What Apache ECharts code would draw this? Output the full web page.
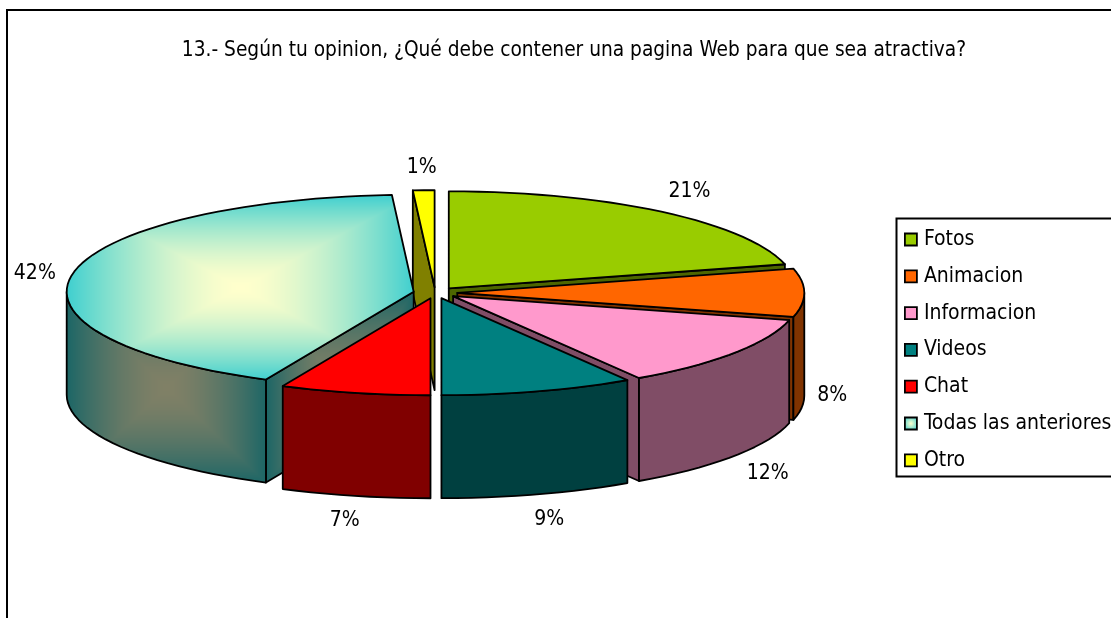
<!DOCTYPE html>
<html>
<head>
<meta charset="utf-8">
<style>html,body{margin:0;padding:0;background:#fff}#c{width:1111px;height:618px}</style>
<script src="https://cdn.jsdelivr.net/npm/echarts@6/dist/echarts.min.js"></script>
</head>
<body>
<div id="c"></div>
<script>
const titleText = '13.- Según tu opinion, ¿Qué debe contener una pagina Web para que sea atractiva?';
const categories = ['Fotos','Animacion','Informacion','Videos','Chat','Todas las anteriores','Otro'];
const values = [21,8,12,9,7,42,1];
const topColors = ['#99CC00','#FF6600','#FF99CC','#008080','#FF0000',null,'#FFFF00'];
const sideColors = ['#4D6600','#803300','#804D66','#004040','#800000',null,'#808000'];

// layout of the pseudo-3D pie (not data)
const FONT = '"DejaVu Sans Condensed","DejaVu Sans",sans-serif';
const pie = {cx:435.3, cy:292.8, rx:347, ry:97, depth:103, ex:22, ey:5.6};
const paintOrder = [6,0,1,5,2,4,3];
const labelNudge = [[28,-20.5],[28,102.5],[34,120.5],[11,128],[-10,127.5],[-38,-0.5],[-2,-23]];

const total = values.reduce((a,b)=>a+b,0);
const TAU = Math.PI*2;

function hex(c){return [1,3,5].map(k=>parseInt(c.substr(k,2),16));}
function rectGradientCanvas(box,centre,edge){
  const cv=document.createElement('canvas');cv.width=1111;cv.height=618;
  const ctx=cv.getContext('2d');
  const x0=Math.max(0,Math.floor(box[0])),y0=Math.max(0,Math.floor(box[1]));
  const x1=Math.min(1111,Math.ceil(box[2])),y1=Math.min(618,Math.ceil(box[3]));
  const w=x1-x0,h=y1-y0,img=ctx.createImageData(w,h);
  const mx=(box[0]+box[2])/2,my=(box[1]+box[3])/2,hx=(box[2]-box[0])/2,hy=(box[3]-box[1])/2;
  const a=hex(centre),b=hex(edge);
  for(let y=0;y<h;y++)for(let x=0;x<w;x++){
    const t=Math.pow(Math.min(1,Math.max(Math.abs(x+x0-mx)/hx,Math.abs(y+y0-my)/hy)),1.6);
    const p=(y*w+x)*4;
    for(let k=0;k<3;k++)img.data[p+k]=a[k]+(b[k]-a[k])*t;
    img.data[p+3]=255;
  }
  ctx.putImageData(img,x0,y0);
  return cv;
}
const patCache={};
function gradFill(key,pts,centre,edge){
  if(!patCache[key]){
    const xs=pts.map(p=>p[0]),ys=pts.map(p=>p[1]);
    patCache[key]={image:rectGradientCanvas([Math.min(...xs),Math.min(...ys),Math.max(...xs),Math.max(...ys)],centre,edge),repeat:'no-repeat'};
  }
  return patCache[key];
}

function renderSlice(params,api){
  const i=api.value(1);
  let before=0;for(let k=0;k<i;k++)before+=values[k];
  const a0=before/total*TAU,a1=(before+api.value(0))/total*TAU,mid=(a0+a1)/2;
  const ox=pie.cx+pie.ex*Math.sin(mid),oy=pie.cy-pie.ey*Math.cos(mid);
  const pt=(a,d)=>[ox+pie.rx*Math.sin(a),oy-pie.ry*Math.cos(a)+(d||0)];
  const arc=(s,e,d)=>{const n=Math.max(1,Math.ceil((e-s)/0.045)),r=[];for(let k=0;k<=n;k++)r.push(pt(s+(e-s)*k/n,d));return r;};
  const grad=!topColors[i];
  const side=(key,pts)=>grad?gradFill(key,pts,'#808066','#1C6666'):sideColors[i];
  const stroke={stroke:'#000',lineWidth:1.8,lineJoin:'round'};
  const poly=(pts,fill)=>({type:'polygon',shape:{points:pts},style:Object.assign({fill},stroke),silent:true});
  const kids=[];
  const wall=(a,key)=>{const q=[[ox,oy],pt(a),pt(a,pie.depth),[ox,oy+pie.depth]];kids.push(poly(q,side(key,q)));};
  if(Math.sin(a0)<-1e-6)wall(a0,'wallStart');
  if(Math.sin(a1)>1e-6)wall(a1,'wallEnd');
  const s=Math.max(a0,Math.PI/2),e=Math.min(a1,Math.PI*1.5);
  if(e>s){
    const q=arc(s,e,0).concat(arc(s,e,pie.depth).reverse());
    kids.push(poly(q,side('rim',q)));
  }
  const top=[[ox,oy]].concat(arc(a0,a1,0));
  kids.push(poly(top,grad?gradFill('top',top,'#FFFFCC','#3FCFCF'):topColors[i]));
  const lp=pt(mid);
  kids.push({type:'text',silent:true,style:{text:api.value(0)+'%',x:lp[0]+labelNudge[i][0],y:lp[1]+labelNudge[i][1],
    align:'center',verticalAlign:'middle',fill:'#000',font:'21px '+FONT}});
  return {type:'group',children:kids};
}

const legendData=categories.map((name,i)=>({name,itemStyle:{
  color:topColors[i]||{type:'radial',x:.5,y:.5,r:.6,colorStops:[{offset:0,color:'#FFFFCC'},{offset:1,color:'#3FCFCF'}]},
  borderColor:'#000',borderWidth:1.8}}));

const chart=echarts.init(document.getElementById('c'),null,{renderer:'canvas'});
chart.setOption({
  animation:false,
  backgroundColor:'#fff',
  title:{text:titleText,left:569,top:35,textAlign:'center',
    textStyle:{color:'#000',fontFamily:FONT,fontWeight:'normal',fontSize:20.7}},
  legend:{data:legendData,orient:'vertical',left:904,top:226,padding:0,itemWidth:12,itemHeight:12,itemGap:9.8,
    selectedMode:false,icon:'rect',itemStyle:{borderColor:'#000',borderWidth:1.8},
    textStyle:{color:'#000',fontFamily:FONT,fontSize:21,padding:[4,0,0,2],lineHeight:23,height:23}},
  graphic:[
    {type:'rect',z:-5,silent:true,shape:{x:7,y:10,width:1200,height:700},style:{fill:'#fff',stroke:'#000',lineWidth:2}},
    {type:'rect',z:-4,silent:true,shape:{x:896.5,y:218.5,width:300,height:258},style:{fill:'#fff',stroke:'#000',lineWidth:2}}
  ],
  series:paintOrder.map((i,o)=>({
    type:'custom',name:categories[i],coordinateSystem:'none',z:2+o,silent:true,
    itemStyle:{color:topColors[i]||'#3FCFCF'},
    renderItem:renderSlice,
    data:[{value:[values[i],i]}]
  }))
});
</script>
</body>
</html>
